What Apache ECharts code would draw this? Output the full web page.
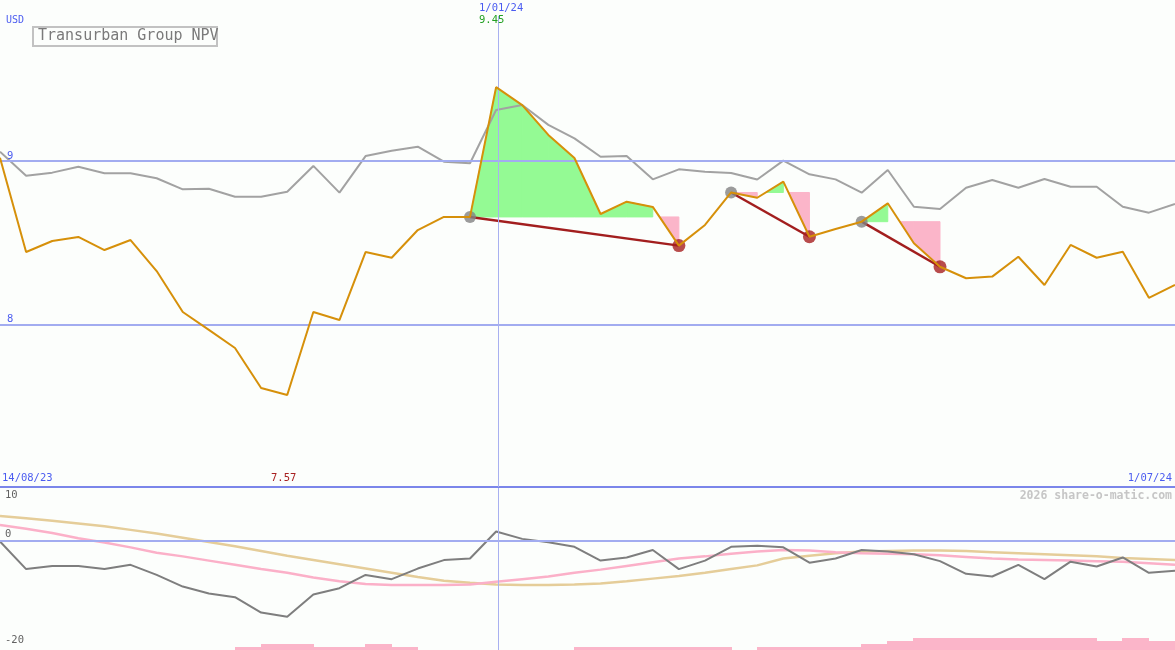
<!DOCTYPE html>
<html><head><meta charset="utf-8">
<script src="https://cdn.jsdelivr.net/npm/echarts@6/dist/echarts.min.js"></script>
<style>html,body{margin:0;padding:0;background:#fcfefc;overflow:hidden}#c{width:1175px;height:650px}</style>
</head><body><div id="c"></div>
<script>
// ---- data ----
const dateLabels = ['14/08/23', '1/01/24', '1/07/24'];
const markerIndex = 19.07;           // position of 1/01/24 on the weekly axis
const markerValue = '9.45';
const lowValue = '7.57';
const price = [9.02, 8.445, 8.512, 8.537, 8.457, 8.518, 8.329, 8.079, 7.970, 7.860,
  7.616, 7.573, 8.079, 8.030, 8.445, 8.410, 8.579, 8.659, 8.659, 9.450,
  9.341, 9.159, 9.018, 8.677, 8.752, 8.720, 8.484, 8.610, 8.808, 8.776,
  8.874, 8.538, 8.585, 8.630, 8.742, 8.498, 8.355, 8.285, 8.295, 8.416,
  8.244, 8.488, 8.410, 8.447, 8.166, 8.244];
const relative = [9.057, 8.910, 8.929, 8.965, 8.925, 8.925, 8.895, 8.827, 8.831, 8.782,
  8.782, 8.813, 8.970, 8.807, 9.030, 9.063, 9.087, 8.996, 8.986, 9.311,
  9.341, 9.220, 9.138, 9.026, 9.030, 8.888, 8.949, 8.935, 8.927, 8.887,
  9.002, 8.919, 8.888, 8.807, 8.945, 8.721, 8.707, 8.837, 8.884, 8.837,
  8.890, 8.843, 8.843, 8.721, 8.685, 8.738];
const oscillator = [-0.1, -5.3, -4.7, -4.7, -5.3, -4.5, -6.4, -8.6, -9.9, -10.6,
  -13.5, -14.3, -10.1, -8.9, -6.4, -7.2, -5.2, -3.6, -3.3, 1.8,
  0.4, -0.25, -1.1, -3.7, -3.1, -1.7, -5.3, -3.7, -1.1, -0.9,
  -1.2, -4.1, -3.3, -1.7, -2.0, -2.5, -3.8, -6.2, -6.7, -4.5,
  -7.2, -3.9, -4.8, -3.1, -6.0, -5.6];
const maFast = [3.0, 2.3, 1.5, 0.5, -0.3, -1.2, -2.2, -2.9, -3.7, -4.5,
  -5.3, -6.0, -6.9, -7.6, -8.1, -8.3, -8.3, -8.3, -8.2, -7.7,
  -7.2, -6.7, -6.0, -5.4, -4.7, -4.0, -3.3, -2.9, -2.4, -2.0,
  -1.7, -1.8, -2.1, -2.3, -2.4, -2.5, -2.7, -3.0, -3.3, -3.5,
  -3.6, -3.7, -3.8, -3.9, -4.2, -4.5];
const maSlow = [4.7, 4.3, 3.8, 3.3, 2.8, 2.1, 1.4, 0.6, -0.2, -1.0,
  -1.9, -2.8, -3.6, -4.4, -5.2, -6.0, -6.8, -7.5, -7.9, -8.2,
  -8.3, -8.3, -8.2, -8.0, -7.6, -7.1, -6.6, -6.0, -5.3, -4.6,
  -3.3, -2.8, -2.3, -2.0, -1.9, -1.8, -1.8, -1.9, -2.1, -2.3,
  -2.5, -2.7, -2.9, -3.2, -3.4, -3.6];
const volumeBars = [0, 0, 0, 0, 0, 0, 0, 0, 0, 1,
  2, 2, 1, 1, 2, 1, 0, 0, 0, 0,
  0, 0, 1, 1, 1, 1, 1, 1, 0, 1,
  1, 1, 1, 2, 3, 4, 4, 4, 4, 4,
  4, 4, 3, 4, 3];
const signalStarts = [18, 28, 33];
const signalEnds = [26, 31, 36];
const mainTicks = [9, 8];
const lowerTicks = ['10', '0', '-20'];
const titleText = 'Transurban Group NPV';
const currencyText = 'USD';
const footerText = '2026 share-o-matic.com';

// ---- chart ----
const N = price.length - 1;
const mainMin = 8 - 162 / 164, mainMax = 9 + 161 / 164;
const lowMin = -109 / 5.3, lowMax = 53 / 5.3;
const MONO = "'DejaVu Sans Mono', monospace";
const BLUE_TXT = '#4b5cf0';
const GRID_LINE = '#a2acf0';
const GREEN = '#94fa94', PINK = '#fbb5c9';

function renderFill(params, api) {
  const s = api.value(0), e = api.value(1), base = api.value(2);
  const children = [];
  for (let i = s; i < e; i++) {
    const a = price[i] - base, b = price[i + 1] - base;
    const col = b >= 0 ? GREEN : PINK;
    let pts;
    if ((a >= 0 && b >= 0) || (a <= 0 && b <= 0)) {
      pts = [[i, base], [i, price[i]], [i + 1, price[i + 1]], [i + 1, base]];
    } else {
      const t = a / (a - b);
      pts = [[i + t, base], [i + 1, price[i + 1]], [i + 1, base]];
    }
    children.push({ type: 'polygon', shape: { points: pts.map(p => api.coord(p)) }, style: { fill: col, stroke: col, lineWidth: 1 } });
  }
  return { type: 'group', children };
}
function renderBar(params, api) {
  const i = api.value(0), v = api.value(1);
  if (!v) return null;
  const p0 = api.coord([i, 0]), p1 = api.coord([i + 1, v]);
  return { type: 'rect', shape: { x: Math.floor(p0[0]), y: p1[1], width: Math.ceil(p1[0]) - Math.floor(p0[0]), height: p0[1] - p1[1] }, style: { fill: PINK } };
}

const series = [];
// fills
series.push({
  type: 'custom', xAxisIndex: 0, yAxisIndex: 0, renderItem: renderFill, silent: true, z: 1,
  data: signalStarts.map((s, k) => [s, signalEnds[k], price[s]])
});
// relative line
series.push({
  type: 'line', xAxisIndex: 0, yAxisIndex: 0, data: relative.map((v, i) => [i, v]),
  symbol: 'none', lineStyle: { color: '#a2a2a2', width: 2 }, z: 2, silent: true,
  markLine: {
    silent: true, symbol: 'none',
    lineStyle: { color: GRID_LINE, width: 2, type: 'solid' },
    label: { show: false },
    data: mainTicks.map(t => ({ yAxis: t }))
  }
});
// signal lines
signalStarts.forEach((s, k) => {
  const e = signalEnds[k];
  series.push({
    type: 'line', xAxisIndex: 0, yAxisIndex: 0, data: [[s, price[s]], [e, price[e]]],
    symbol: 'none', lineStyle: { color: '#a21e1e', width: 2.5 }, z: 3, silent: true
  });
});
// dots
series.push({
  type: 'scatter', xAxisIndex: 0, yAxisIndex: 0, symbolSize: 12, z: 4, silent: true,
  itemStyle: { color: '#828282' }, data: signalStarts.map(s => [s, price[s]])
});
series.push({
  type: 'scatter', xAxisIndex: 0, yAxisIndex: 0, symbolSize: 13, z: 4, silent: true,
  itemStyle: { color: '#a61f1f' }, data: signalEnds.map(s => [s, price[s]])
});
// price
series.push({
  type: 'line', xAxisIndex: 0, yAxisIndex: 0, data: price.map((v, i) => [i, v]),
  symbol: 'none', lineStyle: { color: '#d6900a', width: 2 }, z: 5, silent: true,
  markLine: {
    silent: true, symbol: 'none', label: { show: false },
    lineStyle: { color: '#a8b0f0', width: 1, type: 'solid' },
    data: [[{ coord: [markerIndex, 9.885] }, { coord: [markerIndex, mainMin] }]]
  }
});
// lower panel
series.push({
  type: 'custom', xAxisIndex: 1, yAxisIndex: 2, renderItem: renderBar, silent: true, z: 1,
  data: volumeBars.map((v, i) => [i, v])
});
series.push({
  type: 'line', xAxisIndex: 1, yAxisIndex: 1, data: maSlow.map((v, i) => [i, v]),
  symbol: 'none', lineStyle: { color: '#e5cd99', width: 2.5 }, z: 2, silent: true,
  markLine: {
    silent: true, symbol: 'none', label: { show: false },
    data: [
      { yAxis: 0, lineStyle: { color: GRID_LINE, width: 2, type: 'solid' } },
      [{ coord: [markerIndex, lowMax] }, { coord: [markerIndex, lowMin], lineStyle: { color: '#a8b0f0', width: 1, type: 'solid' } }]
    ]
  }
});
series.push({
  type: 'line', xAxisIndex: 1, yAxisIndex: 1, data: maFast.map((v, i) => [i, v]),
  symbol: 'none', lineStyle: { color: '#fbb0c8', width: 2.5 }, z: 3, silent: true
});
series.push({
  type: 'line', xAxisIndex: 1, yAxisIndex: 1, data: oscillator.map((v, i) => [i, v]),
  symbol: 'none', lineStyle: { color: '#7e7e7e', width: 2 }, z: 4, silent: true
});

function txt(x, y, text, color, size, opts) {
  return {
    type: 'text', x, y, silent: true, z: 100,
    style: { text, fill: color, font: (opts && opts.bold ? 'bold ' : '') + size + 'px ' + MONO, textAlign: (opts && opts.align) || 'left', textVerticalAlign: 'top' }
  };
}

const option = {
  backgroundColor: '#fcfefc',
  animation: false,
  grid: [
    { left: 0, right: 0, top: 0, height: 487 },
    { left: 0, right: 0, top: 488, height: 162 }
  ],
  xAxis: [
    { type: 'value', gridIndex: 0, min: 0, max: N, axisLine: { show: true, onZero: false, lineStyle: { color: '#7b86ea', width: 2 } }, axisTick: { show: false }, axisLabel: { show: false }, splitLine: { show: false } },
    { type: 'value', gridIndex: 1, min: 0, max: N, show: false }
  ],
  yAxis: [
    { type: 'value', gridIndex: 0, min: mainMin, max: mainMax, show: false },
    { type: 'value', gridIndex: 1, min: lowMin, max: lowMax, show: false },
    { type: 'value', gridIndex: 1, min: 0, max: 54, show: false }
  ],
  series,
  graphic: [
    txt(6, 15, currencyText, BLUE_TXT, 10),
    { type: 'rect', shape: { x: 33, y: 27, width: 184, height: 19 }, style: { fill: 'none', stroke: '#c2c2c2', lineWidth: 2 }, silent: true, z: 100 },
    txt(38, 29, titleText, '#7a7a7a', 15),
    txt(479, 3, dateLabels[1], BLUE_TXT, 10.5),
    txt(479, 15, markerValue, '#22a022', 10.5),
    txt(7, 151, String(mainTicks[0]), BLUE_TXT, 10.5),
    txt(7, 314, String(mainTicks[1]), BLUE_TXT, 10.5),
    txt(2, 473, dateLabels[0], BLUE_TXT, 10.5),
    txt(271, 473, lowValue, '#a82020', 10.5),
    txt(1172, 473, dateLabels[2], BLUE_TXT, 10.5, { align: 'right' }),
    txt(1172, 490, footerText, '#c6c6c6', 11.5, { align: 'right', bold: true }),
    txt(5, 490, lowerTicks[0], '#626262', 10.5),
    txt(5, 529, lowerTicks[1], '#626262', 10.5),
    txt(5, 635, lowerTicks[2], '#626262', 10.5)
  ]
};
const chart = echarts.init(document.getElementById('c'), null, { renderer: 'canvas' });
chart.setOption(option);
</script>
</body></html>
